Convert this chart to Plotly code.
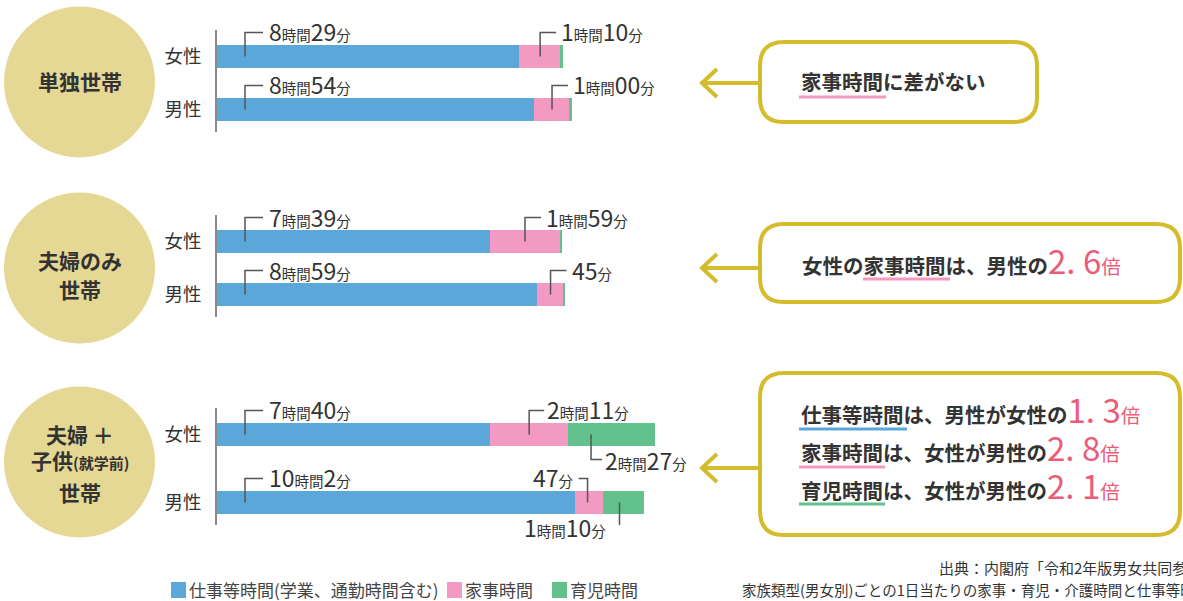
import plotly.graph_objects as go

W, H = 1183, 601
FONT = "Noto Sans CJK JP"

# ---------------- data (minutes per day) ----------------
sexes = ["女性", "男性"]
group_names = ["単独世帯", "夫婦のみ世帯", "夫婦＋子供(就学前)世帯"]

work_single = [509, 534]
house_single = [70, 60]
child_single = [3, 3]

work_couple = [459, 539]
house_couple = [119, 45]
child_couple = [3, 2]

work_kids = [460, 602]
house_kids = [131, 47]
child_kids = [147, 70]

series_names = ["仕事等時間(学業、通勤時間含む)", "家事時間", "育児時間"]
ratio_texts = ["1. 3", "2. 8", "2. 1"]
ratio_couple = "2. 6"

# ---------------- styles ----------------
C_WORK = "#5BA7DA"
C_HOUSE = "#F39AC2"
C_CHILD = "#63C18D"
C_CIRCLE = "#E5D794"
C_GOLD = "#D4BC2C"
C_RED = "#EC5B78"
C_TEXT = "#333333"
C_LEAD = "#555555"


def px(x):
    return x / W


def py(y):
    return 1 - y / H


fig = go.Figure()

groups = [
    ("y", work_single, house_single, child_single, (30, 132), (56.5, 109.5)),
    ("y2", work_couple, house_couple, child_couple, (215, 317), (241.5, 294.5)),
    ("y3", work_kids, house_kids, child_kids, (408, 525), (434.5, 502.5)),
]

shapes = []
annotations = []


def tlabel(m):
    h, mm = divmod(m, 60)
    big = "font-size:23px"
    small = "font-size:14.5px"
    s = ""
    if h:
        s += f"<span style='{big}'>{h}</span><span style='{small}'>時間</span>"
        mstr = f"{mm:02d}" if mm == 0 else str(mm)
    else:
        mstr = str(mm)
    s += f"<span style='{big}'>{mstr}</span><span style='{small}'>分</span>"
    return s


def leader(yref, cat, xa, path):
    shapes.append(dict(type="path", xref="x", yref=yref, xsizemode="pixel",
                       ysizemode="pixel", xanchor=xa, yanchor=cat, path=path,
                       line=dict(color=C_LEAD, width=1.5)))


def label(yref, cat, xa, text, xshift, yshift, anchor="left"):
    annotations.append(dict(xref="x", yref=yref, x=xa, y=cat, text=text,
                            showarrow=False, xanchor=anchor, yanchor="middle",
                            xshift=xshift, yshift=yshift,
                            font=dict(family=FONT, size=14, color=C_TEXT)))


layout_axes = {}
for gi, (yname, work, house, child, dom, cen) in enumerate(groups):
    spacing = cen[1] - cen[0]
    top = (dom[0] - cen[0]) / spacing
    bottom = (dom[1] - cen[0]) / spacing
    bw = 23 / spacing
    for vals, col in ((work, C_WORK), (house, C_HOUSE), (child, C_CHILD)):
        fig.add_trace(go.Bar(x=vals, y=sexes, orientation="h", yaxis=yname, xaxis="x",
                             marker=dict(color=col, line=dict(width=0)),
                             width=[bw] * len(vals), showlegend=False, hoverinfo="skip"))
    key = "yaxis" if yname == "y" else "yaxis" + yname[1:]
    layout_axes[key] = dict(
        domain=[py(dom[1]), py(dom[0])], anchor="x", type="category",
        categoryorder="array", categoryarray=sexes, range=[bottom, top],
        showline=True, linecolor="#8a8a8a", linewidth=1.5, showgrid=False,
        zeroline=False, ticks="", ticklabelstandoff=10,
        tickfont=dict(family=FONT, size=18.5, color=C_TEXT), fixedrange=True)

    # labels
    for i in range(2):
        leader(yname, i, 0, "M28,0 V24 H46")
        label(yname, i, 0, tlabel(work[i]), 50, 25)
    if gi < 2:
        for i in range(2):
            mid = work[i] + house[i] / 2
            leader(yname, i, mid, "M0,0 V24 H16")
            label(yname, i, mid, tlabel(house[i]), 19, 25)
    else:
        mid = work[0] + house[0] / 2
        leader(yname, 0, mid, "M0,0 V24 H15")
        label(yname, 0, mid, tlabel(house[0]), 16, 25)
        st = work[0] + house[0]
        leader(yname, 0, st, "M23,0 V-25 H34")
        label(yname, 0, st, tlabel(child[0]), 35, -26)
        mid = work[1] + house[1] / 2
        leader(yname, 1, mid, "M-1,0 V24 H-10")
        label(yname, 1, mid, tlabel(house[1]), -13, 25, anchor="right")
        st = work[1] + house[1]
        leader(yname, 1, st, "M17,0 V-25 H7")
        label(yname, 1, st, tlabel(child[1]), 5, -24, anchor="right")

# ---------------- circles ----------------
for cy in (82, 268, 462):
    r = 75.5
    shapes.append(dict(type="circle", xref="paper", yref="paper", layer="below",
                       x0=px(79.5 - r), x1=px(79.5 + r), y0=py(cy + r), y1=py(cy - r),
                       fillcolor=C_CIRCLE, line=dict(width=0)))


def ctext(text, x, y, size=21):
    annotations.append(dict(xref="paper", yref="paper", x=px(x), y=py(y), text=text,
                            showarrow=False, xanchor="center", yanchor="middle",
                            font=dict(family=FONT, size=size, color=C_TEXT, weight="bold")))


ctext("単独世帯", 79.5, 81)
ctext("夫婦のみ", 79.5, 260)
ctext("世帯", 79.5, 289)
ctext("夫婦 ＋", 79.5, 434)
ctext("子供<span style='font-size:15px'>(就学前)</span>", 79.5, 460)
ctext("世帯", 79.5, 492)


# ---------------- callout boxes ----------------
def rrect(x0, y0, x1, y1, r):
    pts = [
        f"M{px(x0 + r)},{py(y0)}", f"L{px(x1 - r)},{py(y0)}",
        f"Q{px(x1)},{py(y0)} {px(x1)},{py(y0 + r)}", f"L{px(x1)},{py(y1 - r)}",
        f"Q{px(x1)},{py(y1)} {px(x1 - r)},{py(y1)}", f"L{px(x0 + r)},{py(y1)}",
        f"Q{px(x0)},{py(y1)} {px(x0)},{py(y1 - r)}", f"L{px(x0)},{py(y0 + r)}",
        f"Q{px(x0)},{py(y0)} {px(x0 + r)},{py(y0)}", "Z",
    ]
    return " ".join(pts)


def arrow(xl, tip, y):
    return (f"M{px(xl)},{py(y)} L{px(tip)},{py(y)} "
            f"M{px(tip + 15)},{py(y - 14)} L{px(tip)},{py(y)} L{px(tip + 15)},{py(y + 14)}")


for (x0, y0, x1, y1, ay) in ((760, 42, 1037, 122, 83), (760, 224, 1180, 302, 268),
                             (760, 373, 1180, 535, 468)):
    shapes.append(dict(type="path", xref="paper", yref="paper", path=rrect(x0, y0, x1, y1, 24),
                       line=dict(color=C_GOLD, width=4), fillcolor="rgba(0,0,0,0)"))
    shapes.append(dict(type="path", xref="paper", yref="paper", path=arrow(x0, 702, ay),
                       line=dict(color=C_GOLD, width=4)))


def btext(text, x, y, size=20.5):
    annotations.append(dict(xref="paper", yref="paper", x=px(x), y=py(y), text=text,
                            showarrow=False, xanchor="left", yanchor="middle", align="left",
                            font=dict(family=FONT, size=size, color=C_TEXT, weight="bold")))


def uline(x0, x1, y, col):
    shapes.append(dict(type="line", xref="paper", yref="paper", x0=px(x0), x1=px(x1),
                       y0=py(y), y1=py(y), line=dict(color=col, width=3)))


def ratio(r):
    return (f"<span style='font-size:33px;font-weight:normal;color:{C_RED}'>{r}</span>"
            f"<span style='font-size:19.5px;font-weight:normal;color:{C_RED}'>倍</span>")


def blk(t):
    return f"<span style='font-size:20.5px'>{t}</span>"


btext("家事時間に差がない", 799, 81)
uline(799, 886, 97, C_HOUSE)

btext("女性の家事時間は、男性の" + ratio(ratio_couple), 800, 260)
uline(863, 950, 279, C_HOUSE)

# three lines in one annotation; line pitch = 1.3 * base font size (= 38 px)
lines3 = [
    blk("仕事等時間は、男性が女性の") + ratio(ratio_texts[0]),
    blk("家事時間は、女性が男性の") + ratio(ratio_texts[1]),
    blk("育児時間は、女性が男性の") + ratio(ratio_texts[2]),
]
btext("<br>".join(lines3), 799, 447, size=38 / 1.3)
uline(799, 907, 429, C_WORK)
uline(799, 885, 467, C_HOUSE)
uline(799, 885, 504, C_CHILD)

# ---------------- legend (manual) ----------------
for (sx, col, name) in ((171, C_WORK, series_names[0]), (447, C_HOUSE, series_names[1]),
                        (552, C_CHILD, series_names[2])):
    shapes.append(dict(type="rect", xref="paper", yref="paper", x0=px(sx), x1=px(sx + 15),
                       y0=py(598), y1=py(582), fillcolor=col, line=dict(width=0)))
    annotations.append(dict(xref="paper", yref="paper", x=px(sx + 16), y=py(589), text=name,
                            showarrow=False, xanchor="left", yanchor="middle",
                            font=dict(family=FONT, size=17, color="#444444")))

# ---------------- source ----------------
annotations.append(dict(xref="paper", yref="paper", x=px(937), y=py(567),
                        text="出典：内閣府「令和2年版男女共同参画白書」", showarrow=False,
                        xanchor="left", yanchor="middle",
                        font=dict(family=FONT, size=15, color=C_TEXT)))
annotations.append(dict(xref="paper", yref="paper", x=px(740), y=py(589),
                        text="家族類型(男女別)ごとの1日当たりの家事・育児・介護時間と仕事等時間",
                        showarrow=False, xanchor="left", yanchor="middle",
                        font=dict(family=FONT, size=14.5, color=C_TEXT)))

fig.update_layout(
    width=W, height=H, autosize=False,
    margin=dict(l=0, r=0, t=0, b=0),
    paper_bgcolor="white", plot_bgcolor="white",
    barmode="stack", bargap=0,
    xaxis=dict(domain=[px(217), px(811)], range=[0, 1000], visible=False, fixedrange=True),
    shapes=shapes, annotations=annotations,
    font=dict(family=FONT, color=C_TEXT),
    **layout_axes,
)

fig.write_html("out.html", config={"displayModeBar": False})
